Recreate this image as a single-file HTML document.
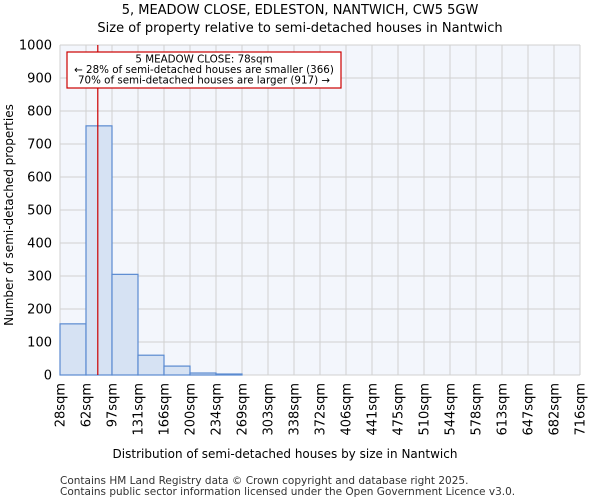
<!DOCTYPE html>
<html><head><meta charset="utf-8"><style>
body{margin:0;background:#fff;font-family:"DejaVu Sans","Liberation Sans",sans-serif;}
</style></head><body>
<svg id="c" width="600" height="500" xmlns="http://www.w3.org/2000/svg" font-family="DejaVu Sans, Liberation Sans, sans-serif">
<text x="300" y="14" text-anchor="middle" font-size="13">5, MEADOW CLOSE, EDLESTON, NANTWICH, CW5 5GW</text>
<text x="300" y="32" text-anchor="middle" font-size="13">Size of property relative to semi-detached houses in Nantwich</text>
<rect x="60" y="45" width="520" height="330" fill="#f3f6fc"/>
<g id="grid"></g><g id="bars"></g><g id="axes"></g>
<text transform="translate(13,215) rotate(-90)" text-anchor="middle" font-size="12">Number of semi-detached properties</text>
<text x="285" y="458" text-anchor="middle" font-size="12">Distribution of semi-detached houses by size in Nantwich</text>
<text x="60" y="484" font-size="10.5" fill="#333">Contains HM Land Registry data © Crown copyright and database right 2025.</text>
<text x="60" y="495" font-size="10.5" fill="#333">Contains public sector information licensed under the Open Government Licence v3.0.</text>
</svg>
<script>
const categories=["28sqm","62sqm","97sqm","131sqm","166sqm","200sqm","234sqm","269sqm","303sqm","338sqm","372sqm","406sqm","441sqm","475sqm","510sqm","544sqm","578sqm","613sqm","647sqm","682sqm","716sqm"];
const counts=[155,755,305,60,27,6,3,0,0,0,0,0,0,0,0,0,0,0,0,0];
const yTicks=[0,100,200,300,400,500,600,700,800,900,1000];
const propertySize=78;
const binStart=28, binWidth=34.4;
const NS="http://www.w3.org/2000/svg";
const x0=60,x1=580,y0=375,y1=45,yMax=1000;
const bw=(x1-x0)/counts.length;
const X=v=>x0+(v-binStart)/binWidth*bw;
const Y=v=>y0-(v/yMax)*(y0-y1);
function mk(t,a,p){const e=document.createElementNS(NS,t);for(const k in a)e.setAttribute(k,a[k]);p.appendChild(e);return e;}
const g=document.getElementById('grid'),b=document.getElementById('bars'),ax=document.getElementById('axes');
yTicks.forEach(v=>{
 const l=mk('line',{x1:x0,x2:x1,y1:Y(v),y2:Y(v),stroke:'#d0d0d0','stroke-width':1},g);
 
 
 const t=mk('text',{x:x0-8,y:Y(v)+4.5,'text-anchor':'end','font-size':13},ax);t.textContent=v;
 
 
});
categories.forEach((c,i)=>{
 const x=x0+i*bw;
 const l=mk('line',{x1:x,x2:x,y1:y1,y2:y0,stroke:'#d0d0d0','stroke-width':1},g);
 
 
 const t=mk('text',{transform:`translate(${x+4.5},${y0+8}) rotate(-90)`,'text-anchor':'end','font-size':13},ax);t.textContent=c;
 
 
});
counts.forEach((v,i)=>{
 if(v<=0)return;
 const r=mk('rect',{x:x0+i*bw,y:Y(v),width:bw,height:y0-Y(v),fill:'#d6e2f3',stroke:'#5a8ad0','stroke-width':1.2},b);
 
 
});
const px=X(propertySize);
const rl=mk('line',{x1:px,x2:px,y1:y1,y2:y0,stroke:'#cc0000','stroke-width':1.2},ax);


const box=mk('rect',{x:67,y:52,width:274,height:36,fill:'#fff',stroke:'#cc0000','stroke-width':1.2},ax);


["5 MEADOW CLOSE: 78sqm","← 28% of semi-detached houses are smaller (366)","70% of semi-detached houses are larger (917) →"].forEach((s,i)=>{
 const t=mk('text',{x:204,y:62.5+i*10.5,'text-anchor':'middle','font-size':10.3},ax);t.textContent=s;
 
 
});
</script>
</body></html>
